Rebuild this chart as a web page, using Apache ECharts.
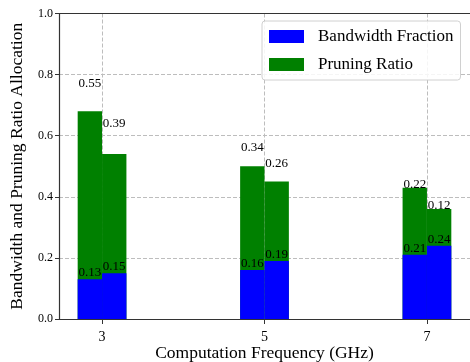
<!DOCTYPE html>
<html>
<head>
<meta charset="utf-8">
<script src="https://cdn.jsdelivr.net/npm/echarts@6/dist/echarts.min.js"></script>
<style>html,body{margin:0;padding:0;background:#fff}#c{width:470px;height:362px}</style>
</head>
<body>
<div id="c"></div>
<script>
const categories = [3, 5, 7];
const bandwidthA = [0.13, 0.16, 0.21];
const pruningA = [0.55, 0.34, 0.22];
const bandwidthB = [0.15, 0.19, 0.24];
const pruningB = [0.39, 0.26, 0.12];
const yTicks = [0, 0.2, 0.4, 0.6, 0.8, 1.0];
const seriesNames = ['Bandwidth Fraction', 'Pruning Ratio'];
const xTitle = 'Computation Frequency (GHz)';
const yTitle = 'Bandwidth and Pruning Ratio Allocation';

// styling
const BAR_W = 0.3;
const FONT = '"Liberation Serif", "DejaVu Serif", serif';
const labelLiftA = [21, 12, -3];
const labelLiftB = [24, 11, -3];

const chart = echarts.init(document.getElementById('c'), null, {renderer: 'canvas'});

// blue segment: from 0 to bandwidth
function blueData(bw, shift) {
  return categories.map((x, i) => ({value: [x + shift, bw[i]], shown: bw[i]}));
}
// green segment: stacked on top of the blue one (bandwidth + pruning), blue drawn over it
function greenData(bw, pr, shift, lifts) {
  return categories.map((x, i) => ({value: [x + shift, bw[i] + pr[i]], shown: pr[i], label: {distance: lifts[i]}}));
}
const lbl = (d) => ({show: true, position: 'top', distance: d, fontFamily: FONT, fontSize: 13, color: '#000',
  formatter: p => p.data.shown.toFixed(2)});

function build(barPx) {
  const common = {type: 'bar', barWidth: barPx, barGap: '-100%'};
  const gridLine = {show: true, lineStyle: {color: '#bdbdbd', type: [4, 2], width: 1}};
  return {
    animation: false,
    grid: {left: 59, right: 0, top: 13.5, bottom: 43, containLabel: false, outerBoundsMode: 'none'},
    legend: {
      data: seriesNames, orient: 'vertical', left: 262, top: 21, padding: [7, 7, 7, 7],
      itemWidth: 35, itemHeight: 13, itemGap: 11,
      backgroundColor: 'rgba(255,255,255,0.85)', borderColor: '#d0d0d0', borderWidth: 1, borderRadius: 3,
      textStyle: {fontFamily: FONT, fontSize: 17, color: '#000', padding: [0, 0, 0, 9]},
      icon: 'rect'
    },
    xAxis: [{
      type: 'value', min: 2.47, max: 7.53,
      name: xTitle, nameLocation: 'middle', nameGap: 25, nameMoveOverlap: false,
      nameTextStyle: {fontFamily: FONT, fontSize: 17.5, color: '#000'},
      axisLine: {show: true, lineStyle: {color: '#333', width: 1.2}},
      axisTick: {show: true, customValues: categories, length: 5, lineStyle: {color: '#333'}},
      axisLabel: {customValues: categories, fontFamily: FONT, fontSize: 14, color: '#000', margin: 11},
      splitLine: gridLine
    }, {
      type: 'value', min: 2.47, max: 7.53, position: 'top',
      axisLine: {show: true, lineStyle: {color: '#333', width: 1.2}},
      axisTick: {show: false}, axisLabel: {show: false}, splitLine: {show: false}
    }],
    yAxis: {
      type: 'value', min: yTicks[0], max: yTicks[yTicks.length - 1], interval: 0.2,
      name: yTitle, nameLocation: 'middle', nameGap: 33, nameMoveOverlap: false,
      nameTextStyle: {fontFamily: FONT, fontSize: 17.5, color: '#000'},
      axisLine: {show: true, lineStyle: {color: '#333', width: 1.2}},
      axisTick: {show: true, length: 4, lineStyle: {color: '#333'}},
      axisLabel: {fontFamily: FONT, fontSize: 12, color: '#000', margin: 6, formatter: v => v.toFixed(1)},
      splitLine: gridLine
    },
    series: [
      Object.assign({name: seriesNames[1], z: 2, itemStyle: {color: '#008000'}, label: lbl(0),
        data: greenData(bandwidthA, pruningA, -BAR_W / 2, labelLiftA)}, common),
      Object.assign({name: seriesNames[1], z: 2, itemStyle: {color: '#008000'}, label: lbl(0),
        data: greenData(bandwidthB, pruningB, BAR_W / 2, labelLiftB)}, common),
      Object.assign({name: seriesNames[0], z: 3, itemStyle: {color: '#0000ff'}, label: lbl(0),
        data: blueData(bandwidthA, -BAR_W / 2)}, common),
      Object.assign({name: seriesNames[0], z: 3, itemStyle: {color: '#0000ff'}, label: lbl(0),
        data: blueData(bandwidthB, BAR_W / 2)}, common)
    ]
  };
}
chart.setOption(build(24));
const px = chart.convertToPixel({xAxisIndex: 0}, categories[0] + BAR_W) - chart.convertToPixel({xAxisIndex: 0}, categories[0]);
chart.setOption(build(px));
</script>
</body>
</html>
